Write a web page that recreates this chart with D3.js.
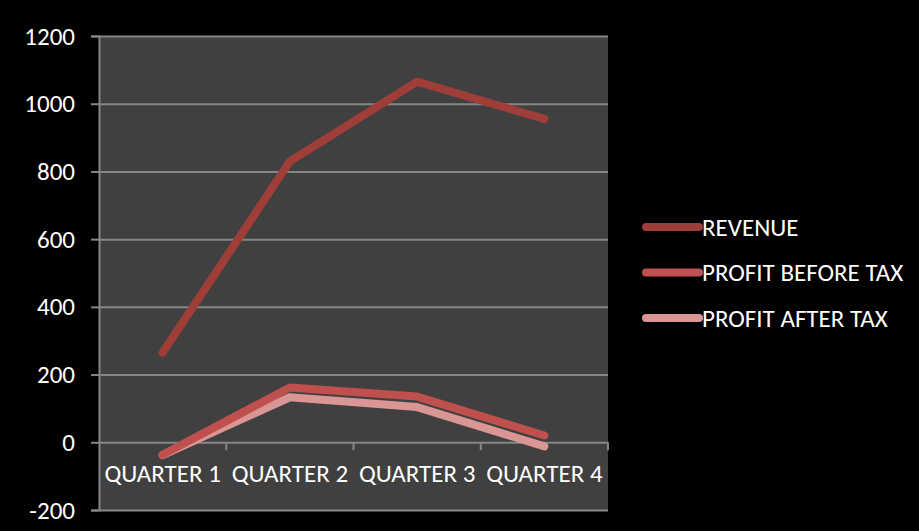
<!DOCTYPE html>
<html>
<head>
<meta charset="utf-8">
<script src="https://cdn.jsdelivr.net/npm/d3@7"></script>
<style>
  body { margin: 0; background: #000; }
</style>
</head>
<body>
<div id="chart"></div>
<script>
// Quarterly figures
const quarters = ["QUARTER 1", "QUARTER 2", "QUARTER 3", "QUARTER 4"];
const revenue = [265, 830, 1065, 955];
const profitBeforeTax = [-37, 162, 135, 20];
const profitAfterTax = [-38, 133, 104, -12];
const yTicks = [-200, 0, 200, 400, 600, 800, 1000, 1200];

const series = [
    { name: "REVENUE", values: revenue, color: "#9f3d39" },
    { name: "PROFIT BEFORE TAX", values: profitBeforeTax, color: "#c0504d" },
    { name: "PROFIT AFTER TAX", values: profitAfterTax, color: "#d99694" }
];

const width = 919, height = 531, margin = { top: 36, right: 311, bottom: 21, left: 99 };
const font = "Carlito, 'Open Sans', sans-serif";
const fontSize = "25px";

const svg = d3.select("#chart")
    .append("svg")
    .attr("width", width)
    .attr("height", height)
    .style("background", "#000");

const x = d3.scaleBand()
    .domain(quarters)
    .range([margin.left, width - margin.right]);

const y = d3.scaleLinear()
    .domain([-200, 1200])
    .range([height - margin.bottom, margin.top]);

// Plot area
svg.append("rect")
    .attr("x", margin.left)
    .attr("y", margin.top)
    .attr("width", width - margin.right - margin.left)
    .attr("height", height - margin.bottom - margin.top)
    .attr("fill", "#404040");

// Gridlines + y axis
const yAxis = svg.append("g")
    .attr("transform", `translate(${margin.left},0)`)
    .call(d3.axisLeft(y).tickValues(yTicks).tickSize(8).tickPadding(16)
        .tickFormat(d => String(d)))
    .call(g => g.select(".domain").attr("stroke", "#868686").attr("stroke-width", 2));
yAxis.selectAll(".tick line").attr("stroke", "#868686").attr("stroke-width", 2);
yAxis.selectAll(".tick").append("line")
    .attr("x1", 0)
    .attr("x2", width - margin.right - margin.left)
    .attr("stroke", "#868686")
    .attr("stroke-width", 2);
yAxis.selectAll("text")
    .attr("fill", "#fff")
    .style("font-size", fontSize)
    .style("font-family", font);

// x axis on the zero line
const xAxis = svg.append("g")
    .attr("transform", `translate(0,${y(0)})`)
    .call(d3.axisBottom(x).tickSize(0).tickPadding(22))
    .call(g => g.select(".domain").remove());
xAxis.selectAll("text")
    .attr("fill", "#fff")
    .style("font-size", fontSize)
    .style("font-family", font);
xAxis.selectAll(".band-tick")
    .data(quarters.slice(1).concat([null]))
    .enter().append("line")
    .attr("x1", d => d ? x(d) : x.range()[1])
    .attr("x2", d => d ? x(d) : x.range()[1])
    .attr("y1", 0)
    .attr("y2", 8)
    .attr("stroke", "#868686")
    .attr("stroke-width", 2);

// Lines
const line = d3.line()
    .x((d, i) => x(quarters[i]) + x.bandwidth() / 2)
    .y(d => y(d));

svg.append("g")
    .selectAll("path")
    .data(series.slice().reverse())
    .enter().append("path")
    .attr("d", d => line(d.values))
    .attr("fill", "none")
    .attr("stroke", d => d.color)
    .attr("stroke-width", 8)
    .attr("stroke-linecap", "round")
    .attr("stroke-linejoin", "round");

// Legend
const legend = svg.append("g")
    .selectAll("g")
    .data(series)
    .enter().append("g")
    .attr("transform", (d, i) => `translate(646,${227 + i * 45.5})`);

legend.append("line")
    .attr("x1", 0)
    .attr("x2", 53)
    .attr("stroke", d => d.color)
    .attr("stroke-width", 8)
    .attr("stroke-linecap", "round");

legend.append("text")
    .attr("x", 56)
    .attr("dy", "0.35em")
    .attr("fill", "#fff")
    .style("font-size", fontSize)
    .style("font-family", font)
    .text(d => d.name);
</script>
</body>
</html>
